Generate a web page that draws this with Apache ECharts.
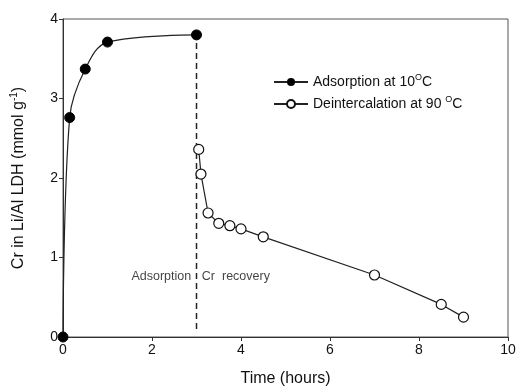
<!DOCTYPE html>
<html><head><meta charset="utf-8">
<script src="https://cdn.jsdelivr.net/npm/echarts@6/dist/echarts.min.js"></script>
<style>html,body{margin:0;padding:0;background:#fff}#c{width:519px;height:392px}</style>
</head><body><div id="c"></div>
<script>
var adsTime = [0, 0.15, 0.5, 1, 3];
var adsValue = [0, 2.76, 3.37, 3.71, 3.80];
var deiTime = [3.05, 3.1, 3.26, 3.5, 3.75, 4.0, 4.5, 7.0, 8.5, 9.0];
var deiValue = [2.36, 2.05, 1.56, 1.43, 1.40, 1.36, 1.26, 0.78, 0.41, 0.25];
var dividerTime = [3, 3];
var dividerValue = [0.1, 3.8];
var xTicks = [0, 2, 4, 6, 8, 10];
var yTicks = [0, 1, 2, 3, 4];

function zip(a, b) { return a.map(function (v, i) { return [v, b[i]]; }); }
var F = 'Liberation Sans, Arial, sans-serif';
var chart = echarts.init(document.getElementById('c'));
chart.setOption({
  animation: false,
  grid: { left: 63, right: 11, top: 19, bottom: 53, show: true, borderColor: '#555', borderWidth: 1 },
  legend: {
    left: 268, top: 68, orient: 'vertical', itemGap: 6, itemWidth: 34, itemHeight: 10,
    data: ['ads', 'dei'],
    formatter: function (n) {
      return n === 'ads' ? '{a|Adsorption at 10}{s|O}{a|C}' : '{a|Deintercalation at 90 }{s|O}{a|C}';
    },
    textStyle: {
      fontFamily: F, color: '#111',
      rich: { a: { fontSize: 14, fontFamily: F, color: '#111' }, s: { fontSize: 9, fontFamily: F, color: '#111', padding: [0, 0, 9, 0] } }
    }
  },
  xAxis: {
    type: 'value', min: 0, max: 10, interval: 2,
    name: 'Time (hours)', nameLocation: 'middle', nameGap: 34,
    nameTextStyle: { fontFamily: F, fontSize: 16, color: '#111' },
    axisLine: { lineStyle: { color: '#333' } },
    axisTick: { show: true, inside: false, length: 4, lineStyle: { color: '#333' } },
    axisLabel: { fontFamily: F, fontSize: 14, color: '#111', margin: 6 },
    splitLine: { show: false }
  },
  yAxis: {
    type: 'value', min: 0, max: 4, interval: 1,
    name: '{a|Cr in Li/Al LDH (mmol g}{s|-1}{a|)}', nameLocation: 'middle', nameGap: 35,
    nameTextStyle: { fontFamily: F, fontSize: 16, color: '#111',
      rich: { a: { fontFamily: F, fontSize: 16, color: '#111' }, s: { fontFamily: F, fontSize: 10, color: '#111', padding: [0, 0, 9, 0] } } },
    axisLine: { show: true, lineStyle: { color: '#333' } },
    axisTick: { show: true, inside: false, length: 4, lineStyle: { color: '#333' } },
    axisLabel: { fontFamily: F, fontSize: 14, color: '#111', margin: 5 },
    splitLine: { show: false }
  },
  series: [
    {
      name: 'divider', type: 'line', data: zip(dividerTime, dividerValue), symbol: 'none',
      lineStyle: { color: '#222', width: 1.5, type: [6, 4] }, z: 1
    },
    {
      name: 'ads', type: 'line', data: zip(adsTime, adsValue), smooth: 0.35,
      symbol: 'circle', symbolSize: 10, itemStyle: { color: '#000', borderColor: '#000' },
      lineStyle: { color: '#222', width: 1.2 }, z: 3
    },
    {
      name: 'dei', type: 'line', data: zip(deiTime, deiValue),
      symbol: 'circle', symbolSize: 10, itemStyle: { color: '#fff', borderColor: '#111', borderWidth: 1.2 },
      lineStyle: { color: '#222', width: 1.2 }, z: 3
    },
    {
      name: 'labels', type: 'scatter', symbolSize: 0, silent: true,
      data: [
        { value: [2.88, 0.76], label: { show: true, position: 'left', formatter: 'Adsorption' } },
        { value: [3.12, 0.76], label: { show: true, position: 'right', formatter: 'Cr  recovery' } }
      ],
      label: { fontFamily: F, fontSize: 12.5, color: '#111', distance: 0 }
    }
  ]
});
</script></body></html>
